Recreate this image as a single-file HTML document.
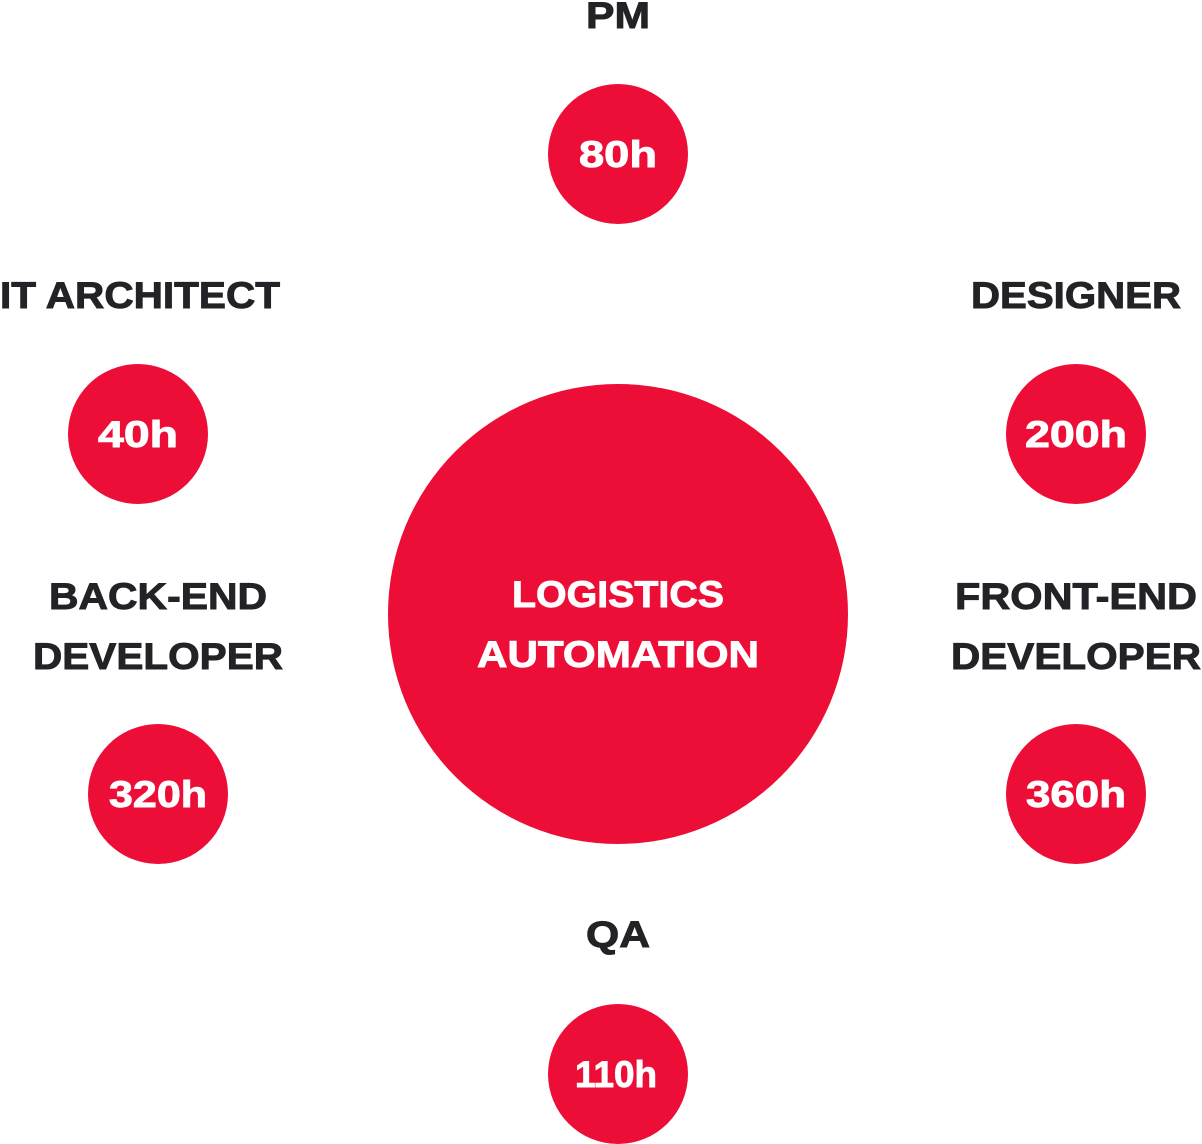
<!DOCTYPE html>
<html><head><meta charset="utf-8"><style>
html,body{margin:0;padding:0;background:#fff;}
svg{display:block;}
text{font-family:"Liberation Sans",sans-serif;font-weight:bold;}
.l{fill:#222326;stroke:#222326;stroke-width:0.9;font-size:37px;}
.w{fill:#fff;stroke:#fff;stroke-width:0.9;font-size:37px;}
</style></head><body>
<svg width="1202" height="1144" viewBox="0 0 1202 1144" xmlns="http://www.w3.org/2000/svg">
<g fill="#ED0E38">
<circle cx="618" cy="154" r="70"/>
<circle cx="138" cy="434" r="70"/>
<circle cx="1076" cy="434" r="70"/>
<circle cx="158" cy="794" r="70"/>
<circle cx="1076" cy="794" r="70"/>
<circle cx="618" cy="1074" r="70"/>
<circle cx="618" cy="614" r="230"/>
</g>
<g text-anchor="middle">
<text class="l" x="618" y="28" textLength="64" lengthAdjust="spacingAndGlyphs">PM</text>
<text class="l" x="140" y="308" textLength="280" lengthAdjust="spacingAndGlyphs">IT ARCHITECT</text>
<text class="l" x="1076" y="308" textLength="210" lengthAdjust="spacingAndGlyphs">DESIGNER</text>
<text class="l" x="158" y="609" textLength="218" lengthAdjust="spacingAndGlyphs">BACK-END</text>
<text class="l" x="158" y="669" textLength="250" lengthAdjust="spacingAndGlyphs">DEVELOPER</text>
<text class="l" x="1076" y="609" textLength="242" lengthAdjust="spacingAndGlyphs">FRONT-END</text>
<text class="l" x="1076" y="669" textLength="250" lengthAdjust="spacingAndGlyphs">DEVELOPER</text>
<text class="l" x="618" y="947" textLength="64" lengthAdjust="spacingAndGlyphs">QA</text>
<text class="w" x="618" y="607" textLength="212" lengthAdjust="spacingAndGlyphs">LOGISTICS</text>
<text class="w" x="618" y="667" textLength="282" lengthAdjust="spacingAndGlyphs">AUTOMATION</text>
<text class="w" x="618" y="167" textLength="78" lengthAdjust="spacingAndGlyphs">80h</text>
<text class="w" x="138" y="447" textLength="80" lengthAdjust="spacingAndGlyphs">40h</text>
<text class="w" x="1076" y="447" textLength="102" lengthAdjust="spacingAndGlyphs">200h</text>
<text class="w" x="158" y="807" textLength="98" lengthAdjust="spacingAndGlyphs">320h</text>
<text class="w" x="1076" y="807" textLength="100" lengthAdjust="spacingAndGlyphs">360h</text>
<text class="w" x="616" y="1087" textLength="82" lengthAdjust="spacingAndGlyphs">110h</text>
</g>
</svg>
</body></html>
